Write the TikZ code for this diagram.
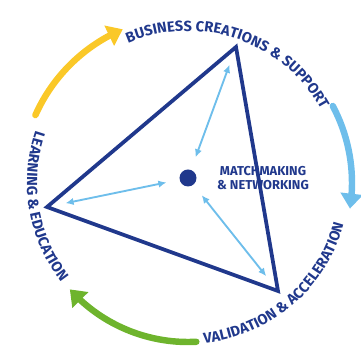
\documentclass[tikz,border=0pt]{standalone}
\usepackage{fontspec}
\newfontfamily\labelfont{Fira Sans}
\newcommand\ringfont{\labelfont\bfseries\fontsize{12.5}{14}\selectfont}
\usetikzlibrary{arrows.meta,decorations.text,bending}
\definecolor{navy}{RGB}{32,56,140}
\definecolor{skyline}{RGB}{110,190,235}
\definecolor{sun}{RGB}{250,200,40}
\definecolor{leaf}{RGB}{110,180,45}

\begin{document}
\begin{tikzpicture}[x=0.3mm,y=0.3mm,>={Latex[length=2.4mm,width=2.2mm]}]
    \tikzstyle{tri}=[draw=navy,line width=3.2pt]
    \tikzstyle{hub}=[circle,fill=navy,inner sep=0pt,minimum size=5.1mm]
    \tikzstyle{link}=[<->,draw=skyline,line width=1.6pt,shorten <=4mm,shorten >=5.7mm]
    \tikzstyle{ring}=[line width=5.5pt,line cap=round,-{Triangle[width=6.5mm,length=4.5mm]}]
    \tikzstyle{ringtext}=[decorate,decoration={text along path,text align=center,text color=navy,text={#1}}]
    \useasboundingbox (-188,-164) rectangle (173,183);
    % triangle
    \coordinate (biz) at (48,136);
    \coordinate (learn) at (-141,-24);
    \coordinate (valid) at (90,-108);
    \draw[tri] (biz) -- (learn) -- (valid) -- cycle;
    \node[hub] (hub) at (0,5) {};
    \node[text=navy,align=center,font=\labelfont\bfseries\fontsize{11}{11.5}\selectfont] (match) at (75,5) {MATCHMAKING\\\& NETWORKING};
    \draw[link] (hub) -- (biz);
    \draw[link] (hub) -- (learn);
    \draw[link] (hub) -- (valid);
    % ring
    \draw[ring,sun] (156:167) arc[start angle=156,end angle=113,radius=167];
    \draw[ring,skyline] (28:164) arc[start angle=28,end angle=-9,radius=164];
    \draw[ring,leaf] (-87:159) arc[start angle=-87,end angle=-138,radius=159];
    \path[ringtext={|\ringfont|BUSINESS CREATIONS {\&} SUPPORT}] (126:152) arc[start angle=126,end angle=16,radius=152];
    \path[ringtext={|\ringfont|LEARNING {\&} EDUCATION}] (140:161) arc[start angle=140,end angle=239,radius=161];
    \path[ringtext={|\ringfont|VALIDATION {\&} ACCELERATION}] (-100:161) arc[start angle=-100,end angle=1,radius=161];
\end{tikzpicture}
\end{document}
